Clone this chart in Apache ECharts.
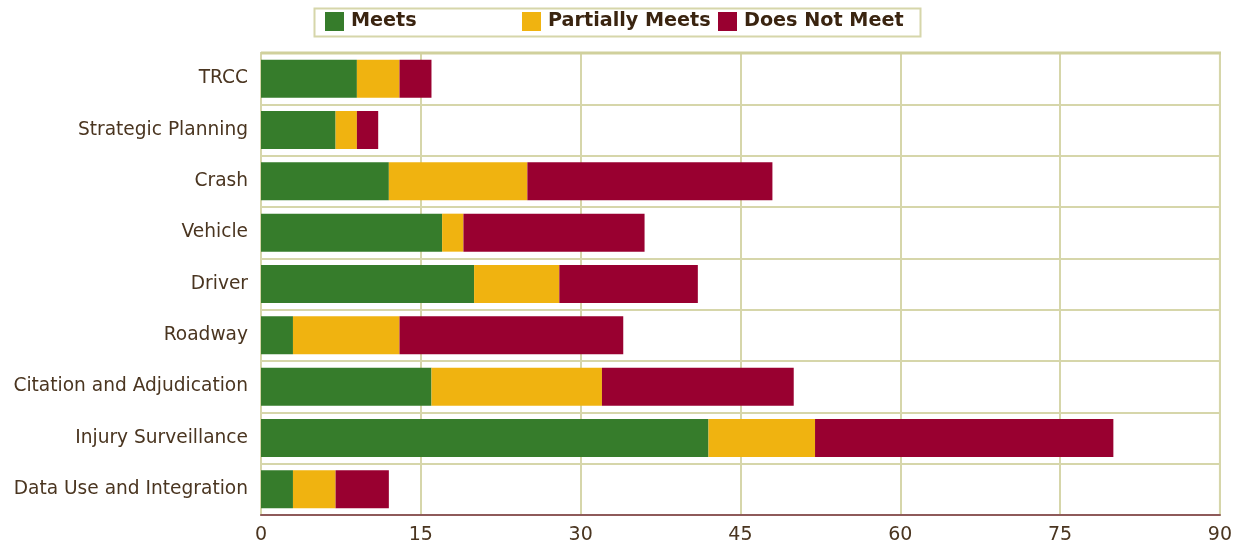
<!DOCTYPE html>
<html><head><meta charset="utf-8">
<script src="https://cdn.jsdelivr.net/npm/echarts@6/dist/echarts.min.js"></script>
<style>html,body{margin:0;padding:0;background:#fff}#c{width:1235px;height:548px}</style>
</head><body><div id="c"></div>
<script>
const categories = ["TRCC","Strategic Planning","Crash","Vehicle","Driver","Roadway","Citation and Adjudication","Injury Surveillance","Data Use and Integration"];
const meets = [9,7,12,17,20,3,16,42,3];
const partiallyMeets = [4,2,13,2,8,10,16,10,4];
const doesNotMeet = [3,2,23,17,13,21,18,28,5];
const xTicks = [0,15,30,45,60,75,90];

const textColor = '#4a3520';
const gridColor = '#d6d6aa';
const font = 'DejaVu Sans';
const names = ['Meets','Partially Meets','Does Not Meet'];
const colors = ['#367c2b','#f0b310','#990030'];
const legendLefts = [325,522,718];

const chart = echarts.init(document.getElementById('c'));
chart.setOption({
  animation:false,
  textStyle:{fontFamily:font},
  graphic:[{type:'rect',shape:{x:314.5,y:8.5,width:606,height:28},style:{fill:'#fff',stroke:'#d6d6aa',lineWidth:2},z:-1},
           {type:'line',shape:{x1:261,y1:53,x2:1221,y2:53},style:{stroke:'#d0d09c',lineWidth:3},z:10}],
  legend: names.map((n,i)=>({data:[n],left:legendLefts[i],top:12,itemWidth:19,itemHeight:19,itemGap:0,
     textStyle:{color:'#3a2410',fontSize:19.2,fontWeight:'bold',fontFamily:font,padding:[0,0,0,2]},padding:0,icon:'rect'})),
  grid:{left:261,right:15,top:53,bottom:33,show:true,borderColor:gridColor,borderWidth:2},
  xAxis:{type:'value',min:0,max:90,interval:15,
    axisLine:{show:true,lineStyle:{color:'#8e5a5a',width:2}},
    axisTick:{show:false},
    axisLabel:{color:textColor,fontSize:19,margin:11,formatter:v=>xTicks.includes(v)?String(v):''},
    splitLine:{show:true,lineStyle:{color:gridColor,width:2}}},
  yAxis:{type:'category',inverse:true,data:categories,
    axisLine:{show:true,lineStyle:{color:gridColor,width:2}},
    axisTick:{show:false},
    axisLabel:{color:textColor,fontSize:18.6,margin:13,padding:[3,0,0,0]},
    splitLine:{show:true,lineStyle:{color:gridColor,width:2}}},
  series:[meets,partiallyMeets,doesNotMeet].map((d,i)=>({name:names[i],type:'bar',stack:'a',data:d,
    itemStyle:{color:colors[i]},barCategoryGap:'26%'}))
});
</script></body></html>
